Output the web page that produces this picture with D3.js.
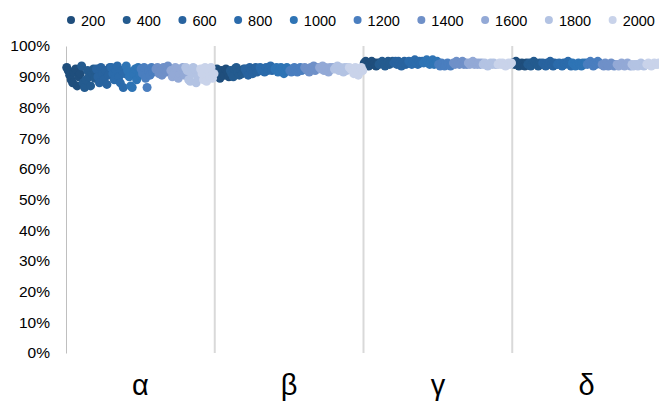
<!DOCTYPE html>
<html>
<head>
<meta charset="utf-8">
<script src="https://cdn.jsdelivr.net/npm/d3@7"></script>
<style>
  html, body { margin: 0; padding: 0; background: #fff; }
  svg { display: block; }
  text { font-family: "Liberation Sans", Arial, sans-serif; fill: #000; }
</style>
</head>
<body>
<svg id="chart" width="659" height="401"></svg>
<script>
// Groups along the x axis
const groups = ["α", "β", "γ", "δ"];
// Series names shown in the legend
const seriesNames = ["200", "400", "600", "800", "1000", "1200", "1400", "1600", "1800", "2000"];
// Y axis tick values (fractions)
const yTicks = [0, 0.1, 0.2, 0.3, 0.4, 0.5, 0.6, 0.7, 0.8, 0.9, 1.0];
// Series colours, dark to light
const seriesColors = ["#1f4e7c", "#245b8f", "#28639f", "#2b6bab", "#2e74b5", "#4a7ebf", "#6f90c8", "#93a9d6", "#b3c3e3", "#c9d3ea"];

// Values in percent: 10 samples per group, groups in order α, β, γ, δ
const s200  = [93, 92, 90.5, 89, 88, 91.5, 92.5, 87, 90, 91,
               91, 92.5, 90, 89.5, 92, 91, 90.5, 92.5, 91.5, 90,
               94.5, 95, 94, 93.5, 94.5, 95, 94, 94.5, 93.5, 94.5,
               94.5, 94, 95, 94.5, 93.5, 94, 94.5, 94, 93.5, 94.5];
const s400  = [93.5, 88, 86.5, 89, 92, 90, 87, 91, 92.5, 89.5,
               92, 91, 90, 92.5, 93, 91.5, 90.5, 92, 91, 92.5,
               94, 94.5, 95, 94, 93.5, 94.5, 95, 94, 94.5, 95,
               94, 94.5, 93.5, 94, 95, 94.5, 94, 93.5, 94.5, 94];
const s600  = [92.5, 90, 88, 93, 91, 89, 92, 87.5, 90.5, 93,
               92.5, 91.5, 90.5, 93, 92, 91, 92.5, 93, 91.5, 92,
               94.5, 95, 94, 95, 94.5, 93.5, 94.5, 95, 94, 94.5,
               94.5, 94, 93.5, 94.5, 94, 95, 94, 93.5, 94.5, 94];
const s800  = [93, 91, 89, 92, 93.5, 90, 88, 92, 86.5, 91,
               93, 92, 92.5, 91.5, 93, 92, 92.5, 93.5, 92, 92.5,
               95, 94.5, 94, 95, 95.5, 94.5, 94, 95, 94.5, 95,
               94, 94.5, 94, 93.5, 94.5, 94, 94.5, 95, 94, 93.5];
const s1000 = [93.5, 92, 90, 87, 86.5, 91, 92.5, 89, 93, 90.5,
               92.5, 93, 91.5, 92, 93, 92.5, 91, 92, 93, 92,
               94.5, 95, 95.5, 94.5, 94, 95, 95.5, 94, 94.5, 95,
               94.5, 94, 93.5, 94, 94.5, 94, 93.5, 94.5, 94, 94.5];
const s1200 = [92.5, 91, 93, 89.5, 86.5, 92, 90.5, 93, 91.5, 92,
               92, 91.5, 92.5, 93, 92, 91.5, 92.5, 93, 92, 92.5,
               94, 93.5, 94.5, 94, 93.5, 94, 94.5, 94, 93.5, 94,
               94, 94.5, 95, 94, 93.5, 94.5, 94, 95, 94.5, 94];
const s1400 = [92.5, 93, 91, 92, 90.5, 93, 92, 91.5, 93.5, 92,
               93, 92.5, 92, 91.5, 93, 92.5, 93.5, 92, 92.5, 93,
               94.5, 94, 95, 94.5, 94, 94.5, 95, 94, 94.5, 94,
               94, 93.5, 94.5, 94, 93.5, 94, 94.5, 94, 93.5, 94];
const s1600 = [92, 90, 91, 93, 92.5, 89.5, 91, 92, 93, 90.5,
               93, 92.5, 93.5, 92, 93, 92.5, 91.5, 93, 92.5, 93,
               94.5, 94, 94.5, 95, 94, 94.5, 94, 94.5, 94, 94.5,
               94, 93.5, 94, 94.5, 94, 93.5, 94, 94.5, 94, 93.5];
const s1800 = [93, 92, 89, 88.5, 91, 93, 92.5, 88, 90, 92,
               92.5, 93, 93.5, 92, 93, 92.5, 91.5, 93, 92, 93,
               94, 94.5, 94, 93.5, 94, 94.5, 94, 94.5, 94, 94,
               94, 93.5, 94, 94, 93.5, 94, 94.5, 94, 93.5, 94];
const s2000 = [92.5, 91, 89, 93, 88.5, 92, 90, 93, 89.5, 91,
               93, 92.5, 92, 91, 93, 92.5, 90.5, 92, 93, 92,
               94, 94.5, 94, 94.5, 94, 93.5, 94, 94.5, 94, 94.5,
               94, 94.5, 94, 93.5, 94, 94.5, 94, 94, 94.5, 94];

const seriesValues = [s200, s400, s600, s800, s1000, s1200, s1400, s1600, s1800, s2000];
const perGroup = 10;

const svg = d3.select("#chart");
const margin = { left: 66, right: -2, top: 46, bottom: 48 };
const W = 659, H = 401;

// Continuous x: each group spans one unit, series laid out left to right within it
const x = d3.scaleLinear().domain([0, groups.length]).range([margin.left, W - margin.right]);
const y = d3.scaleLinear().domain([0, 1]).range([H - margin.bottom, margin.top]);

// Group separators
const seps = svg.append("g");
seps.selectAll("line").data(d3.range(1, groups.length)).join("line")
  .attr("x1", d => x(d)).attr("x2", d => x(d))
  .attr("y1", y(1)).attr("y2", y(0))
  .attr("stroke", "#d9d9d9").attr("stroke-width", 2);

// Y axis
const yAxis = d3.axisLeft(y).tickValues(yTicks).tickFormat(d3.format(".0%")).tickSize(0).tickPadding(16);
const ya = svg.append("g").attr("transform", `translate(${margin.left},0)`).call(yAxis);
ya.select(".domain").attr("stroke", "#bfbfbf").attr("stroke-width", 1);
ya.selectAll("text").attr("font-size", 15.5).attr("font-family", "Liberation Sans, Arial, sans-serif").attr("fill", "#222");

// Points
const pts = [];
seriesValues.forEach((vals, k) => {
  vals.forEach((v, i) => {
    const g = Math.floor(i / perGroup);
    const j = i % perGroup;
    pts.push({ k, xv: g + (k * perGroup + j + 0.5) / (perGroup * seriesNames.length), v: v / 100 });
  });
});
svg.append("g").selectAll("circle").data(pts).join("circle")
  .attr("cx", d => x(d.xv))
  .attr("cy", d => y(d.v))
  .attr("r", 4.5)
  .attr("fill", d => seriesColors[d.k]);

// Group labels
svg.append("g").selectAll("text").data(groups).join("text")
  .attr("x", (d, i) => x(i + 0.5))
  .attr("y", 395)
  .attr("text-anchor", "middle")
  .attr("font-size", 29)
  .text(d => d);

// Legend
const legend = svg.append("g");
let cx = 71;
seriesNames.forEach((name, k) => {
  legend.append("circle").attr("cx", cx).attr("cy", 20).attr("r", 4).attr("fill", seriesColors[k]);
  const t = legend.append("text").attr("x", cx + 10).attr("y", 25.5).attr("font-size", 14.5).attr("fill", "#222").text(name);
  cx += 10 + t.node().getComputedTextLength() + 21.5;
});
</script>
</body>
</html>
